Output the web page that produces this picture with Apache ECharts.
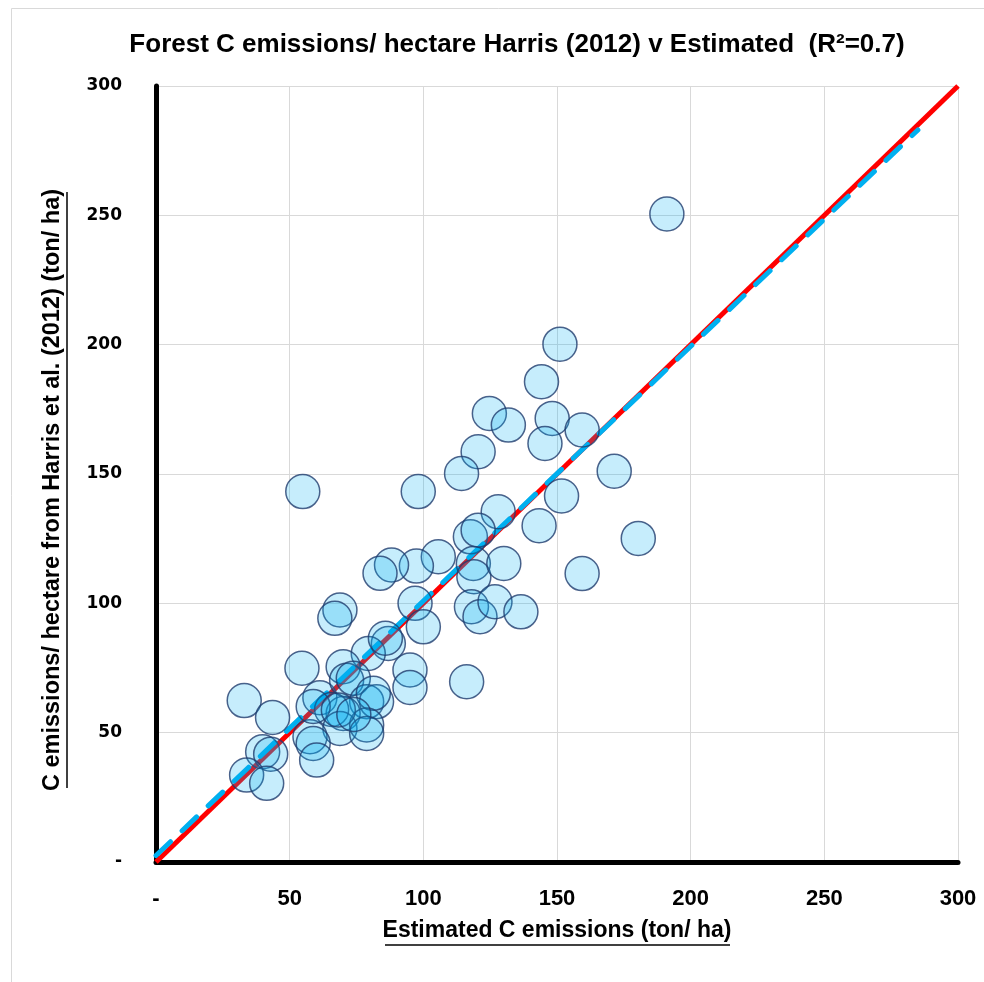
<!DOCTYPE html>
<html>
<head>
<meta charset="utf-8">
<script src="https://cdn.jsdelivr.net/npm/echarts@6/dist/echarts.min.js"></script>
<style>
  html, body { margin: 0; padding: 0; background: #fff; }
  #chart { width: 984px; height: 982px; }
</style>
</head>
<body>
<div id="chart"></div>
<script>
// Estimated vs. Harris (2012) forest carbon emissions per hectare (ton/ha)
const estimated = [
  191.1, 151.1, 144.2, 124.7, 131.8, 148.2, 159.4, 145.5, 120.5, 114.3,
  171.4, 54.9, 98.1, 151.7, 128.0, 143.3, 180.4, 117.6, 120.5, 105.6,
  97.4, 88.1, 83.8, 118.7, 118.9, 130.1, 159.4, 96.9, 100.0, 118.0,
  121.2, 126.8, 136.5, 68.8, 66.9, 86.9, 79.4, 85.8, 95.0, 95.0,
  116.2, 54.6, 70.0, 33.0, 43.6, 39.9, 42.9, 33.9, 41.4, 61.3,
  71.3, 73.8, 78.8, 82.5, 81.3, 70.0, 65.7, 68.8, 78.8, 78.8,
  57.6, 58.8, 60.1, 58.8, 68.2, 74.0
];
const harris = [
  250.5, 200.2, 185.7, 173.4, 168.9, 171.5, 167.0, 161.8, 158.6, 150.2,
  151.1, 143.2, 143.2, 141.5, 135.4, 130.0, 125.1, 125.7, 128.3, 118.0,
  114.4, 114.8, 111.6, 115.4, 110.3, 115.4, 111.5, 100.0, 90.9, 98.7,
  94.8, 100.6, 96.7, 97.4, 94.2, 84.5, 80.6, 86.5, 74.2, 67.5,
  69.7, 74.9, 75.5, 62.4, 55.9, 42.6, 41.7, 33.6, 30.4, 63.5,
  70.3, 71.0, 62.0, 62.0, 65.2, 57.4, 59.0, 51.6, 53.0, 49.7,
  48.4, 45.8, 39.4, 60.1, 58.8, 57.0
];
// 1:1 reference line and fitted trend line (end points)
const oneToOne = [[0, 0], [300, 300]];
const trendLine = [[0, 2.5], [285, 283]];
const axisTicks = [0, 50, 100, 150, 200, 250, 300];

const titleText = 'Forest C emissions/ hectare Harris (2012) v Estimated  (R\u00B2=0.7)';
const xName = 'Estimated C emissions (ton/ ha)';
const yName = 'C emissions/ hectare from Harris et al. (2012) (ton/ ha)';

const points = estimated.map((x, i) => [x, harris[i]]);
const tickFmt = v => (v === 0 ? '-' : String(v));
const narrow = '"Liberation Sans Narrow", "Arial Narrow", "Liberation Sans", sans-serif';

const chart = echarts.init(document.getElementById('chart'), null, { renderer: 'canvas' });
chart.setOption({
  backgroundColor: '#ffffff',
  animation: false,
  grid: { left: 156, right: 26, top: 86, bottom: 120, containLabel: false },
  xAxis: {
    type: 'value', min: axisTicks[0], max: axisTicks[axisTicks.length - 1], interval: 50,
    axisLine: { show: true, onZero: false, lineStyle: { color: '#000', width: 5 } },
    axisTick: { show: false },
    splitLine: { show: true, lineStyle: { color: '#d9d9d9', width: 1 } },
    axisLabel: { formatter: tickFmt, margin: 26, fontFamily: narrow, fontWeight: 'bold', fontSize: 22, color: '#000' }
  },
  yAxis: {
    type: 'value', min: axisTicks[0], max: axisTicks[axisTicks.length - 1], interval: 50,
    axisLine: { show: true, onZero: false, lineStyle: { color: '#000', width: 5 } },
    axisTick: { show: false },
    splitLine: { show: true, lineStyle: { color: '#d9d9d9', width: 1 } },
    axisLabel: { formatter: tickFmt, margin: 34, fontFamily: '"DejaVu Sans", sans-serif', fontWeight: 'bold', fontSize: 17, color: '#000' }
  },
  graphic: [
    { type: 'rect', silent: true, z: -10, shape: { x: 11.5, y: 8.5, width: 1000, height: 1000 },
      style: { fill: null, stroke: '#d9d9d9', lineWidth: 1 } },
    { type: 'text', x: 517, y: 45, silent: true,
      style: { text: titleText, fontFamily: narrow, fontWeight: 'bold', fontSize: 26, fill: '#000', align: 'center', verticalAlign: 'middle' } },
    { type: 'text', x: 557, y: 931, silent: true,
      style: { text: xName, fontFamily: narrow, fontWeight: 'bold', fontSize: 23, fill: '#000', align: 'center', verticalAlign: 'middle' } },
    { type: 'line', silent: true, shape: { x1: 385, y1: 945, x2: 730, y2: 945 }, style: { stroke: '#404040', lineWidth: 2 } },
    { type: 'text', x: 53, y: 490, rotation: Math.PI / 2, silent: true,
      style: { text: yName, fontFamily: narrow, fontWeight: 'bold', fontSize: 23.5, fill: '#000', align: 'center', verticalAlign: 'middle' } },
    { type: 'line', silent: true, shape: { x1: 67, y1: 192, x2: 67, y2: 788 }, style: { stroke: '#404040', lineWidth: 2 } }
  ],
  series: [
    {
      type: 'line', data: oneToOne, symbol: 'none', z: 2,
      lineStyle: { color: '#ff0000', width: 5 }
    },
    {
      type: 'line', data: trendLine, symbol: 'none', z: 3,
      lineStyle: { color: '#00b0f0', width: 5, type: [20, 16], cap: 'round' }
    },
    {
      type: 'scatter', data: points, symbol: 'circle', symbolSize: 34, z: 4,
      itemStyle: { color: 'rgba(0,176,240,0.28)', borderColor: '#1f3c6e', borderWidth: 1.5 }
    }
  ]
});
</script>
</body>
</html>
